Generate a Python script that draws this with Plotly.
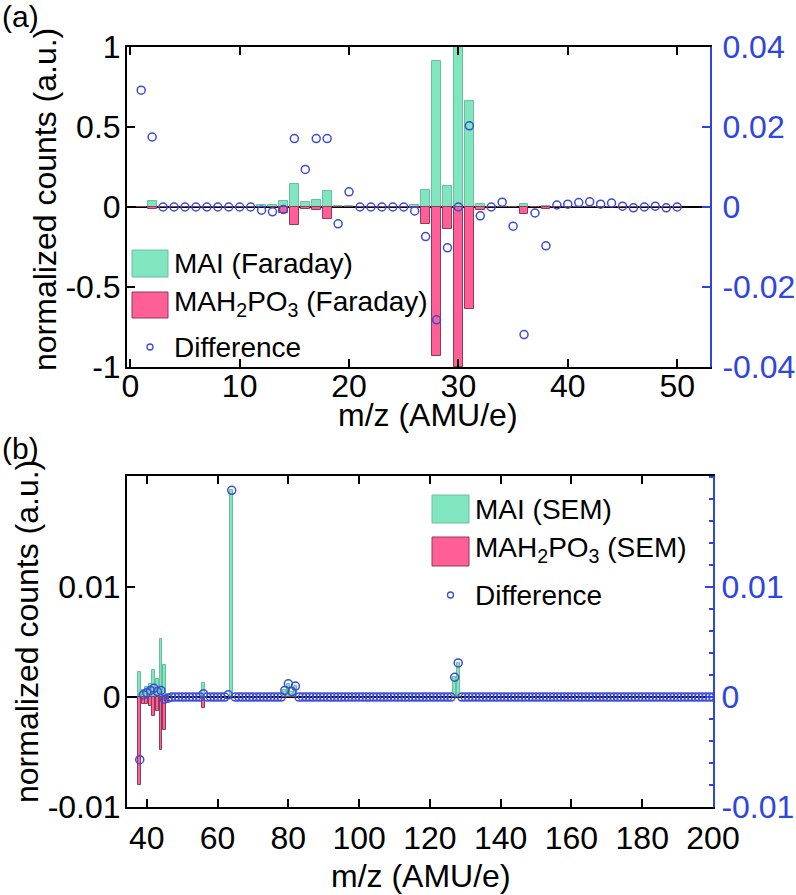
import plotly.graph_objects as go

# ---------------- data: panel (a) Faraday ----------------
mz_a = list(range(1, 51))
mai_a = [0.0, 0.038, 0, 0, 0, 0, 0, 0, 0, 0,
         0.002, 0.012, 0.012, 0.036, 0.142, 0.029, 0.046, 0.102, 0.004, 0.006,
         0.002, 0, 0, 0, 0.003, 0.015, 0.108, 0.91, 0.131, 1.0,
         0.66, 0.017, 0, 0.002, 0.002, 0.017, 0.002, 0.004, 0, 0,
         0, 0, 0.002, 0.002, 0, 0, 0, 0, 0, 0]
mah_a = [0.0, -0.0125, 0, 0, 0, 0, 0, 0, 0, 0,
         0, -0.002, -0.002, -0.035, -0.115, -0.015, -0.021, -0.077, -0.002, 0,
         0, 0, 0, 0, 0, -0.004, -0.108, -0.933, -0.135, -1.0,
         -0.635, -0.017, 0, 0, 0, -0.042, 0, -0.012, 0, 0,
         0, 0, 0, 0, 0, 0, 0, 0, 0, 0]
diff_a = [0.0292, 0.0175, 0, 0, 0, 0, 0, 0, 0, 0,
          0, -0.0008, -0.0012, -0.0006, 0.0171, 0.0094, 0.0171, 0.0171, -0.0042, 0.0038,
          0, 0, 0, 0, 0, -0.001, -0.0074, -0.0282, -0.0102, 0,
          0.0203, -0.0022, 0, 0.0012, -0.0048, -0.0319, -0.0015, -0.0097, 0.0005, 0.0007,
          0.0011, 0.0013, 0.0007, 0.001, 0.0002, -0.0002, 0, 0.0002, -0.0002, 0]

# ---------------- data: panel (b) SEM ----------------
mz_b_bars = [38, 39, 40, 41, 42, 43, 44, 45, 46, 56, 64, 79, 80, 81, 82, 127, 128]
mai_b = [0.0023, 0.0006, 0.0009, 0.0012, 0.0025, 0.0016, 0.0053, 0.0029, 0.0003,
         0.0013, 0.0188, 0.0006, 0.0012, 0.0005, 0.0010, 0.0018, 0.0031]
mah_b = [-0.0080, -0.0006, -0.0006, -0.0008, -0.0017, -0.0013, -0.0048, -0.0030, -0.0004,
         -0.0010, 0, 0, 0, 0, 0, 0, 0]
mz_b = list(range(38, 201))
diff_b = [-0.0057, 0.0002, 0.0004, 0.0006, 0.0008, 0.0005, 0.0006, -0.0002, -0.0001, 0,   # 38-47
          0, 0, 0, 0, 0, 0, 0, 0, 0.0003, 0,                                            # 48-57
          0, 0, 0, 0, 0, 0.0002, 0.0188, 0, 0, 0,                                       # 58-67
          0, 0, 0, 0, 0, 0, 0, 0, 0, 0,                                                 # 68-77
          0, 0.0006, 0.0012, 0.0005, 0.0010, 0, 0, 0, 0, 0,                             # 78-87
          0, 0, 0, 0, 0, 0, 0, 0, 0, 0,                                                 # 88-97
          0, 0, 0, 0, 0, 0, 0, 0, 0, 0,                                                 # 98-107
          0, 0, 0, 0, 0, 0, 0, 0, 0, 0,                                                 # 108-117
          0, 0, 0, 0, 0, 0, 0, 0, 0, 0.0018,                                            # 118-127
          0.0031, 0, 0, 0, 0, 0, 0, 0, 0, 0,                                            # 128-137
          0, 0, 0, 0, 0, 0, 0, 0, 0, 0,                                                 # 138-147
          0, 0, 0, 0, 0, 0, 0, 0, 0, 0,                                                 # 148-157
          0, 0, 0, 0, 0, 0, 0, 0, 0, 0,                                                 # 158-167
          0, 0, 0, 0, 0, 0, 0, 0, 0, 0,                                                 # 168-177
          0, 0, 0, 0, 0, 0, 0, 0, 0, 0,                                                 # 178-187
          0, 0, 0, 0, 0, 0, 0, 0, 0, 0,                                                 # 188-197
          0, 0, 0]                                                                      # 198-200

# ---------------- tick labels ----------------
xt_a = [0, 10, 20, 30, 40, 50]
yt_a = [-1, -0.5, 0, 0.5, 1]
yt_a_txt = ["-1", "-0.5", "0", "0.5", "1"]
yt_a2 = [-0.04, -0.02, 0, 0.02, 0.04]
yt_a2_txt = ["-0.04", "-0.02", "0", "0.02", "0.04"]
xt_b = [40, 60, 80, 100, 120, 140, 160, 180, 200]
yt_b = [-0.01, 0, 0.01]
yt_b_txt = ["-0.01", "0", "0.01"]

# ---------------- style ----------------
GREEN = "#80E6C0"
GREEN_EDGE = "#6CBF9C"
PINK = "#FF5E96"
PINK_EDGE = "#8E3A5A"
BLUE = "#3A4BD8"
AXBLUE = "#2F45E0"
FONT = "Liberation Sans, Arial, Helvetica, sans-serif"

W, H = 796, 895
ML, MR, MT, MB = 127, 83, 47, 88
PW = W - ML - MR
PH = H - MT - MB


def px(x):
    return (x - ML) / PW


def py(y):
    return (H - MB - y) / PH


fig = go.Figure()

# panel (a)
fig.add_trace(go.Bar(x=mz_a, y=mai_a, width=0.8, marker=dict(color=GREEN, line=dict(color=GREEN_EDGE, width=1)),
                     xaxis="x", yaxis="y", showlegend=False, name="MAI (Faraday)"))
fig.add_trace(go.Bar(x=mz_a, y=mah_a, width=0.8, marker=dict(color=PINK, line=dict(color=PINK_EDGE, width=1)),
                     xaxis="x", yaxis="y", showlegend=False, name="MAH2PO3 (Faraday)"))
fig.add_trace(go.Scatter(x=mz_a, y=diff_a, mode="markers",
                         marker=dict(symbol="circle-open", size=8, color=BLUE, line=dict(width=1.5, color=BLUE)),
                         xaxis="x", yaxis="y2", showlegend=False, name="Difference"))

# panel (b)
fig.add_trace(go.Bar(x=mz_b_bars, y=mai_b, width=0.8, marker=dict(color=GREEN, line=dict(color=GREEN_EDGE, width=1)),
                     xaxis="x2", yaxis="y3", showlegend=False, name="MAI (SEM)"))
fig.add_trace(go.Bar(x=mz_b_bars, y=mah_b, width=0.8, marker=dict(color=PINK, line=dict(color=PINK_EDGE, width=1)),
                     xaxis="x2", yaxis="y3", showlegend=False, name="MAH2PO3 (SEM)"))
fig.add_trace(go.Scatter(x=mz_b, y=diff_b, mode="markers",
                         marker=dict(symbol="circle-open", size=8, color=BLUE, line=dict(width=1.5, color=BLUE)),
                         xaxis="x2", yaxis="y4", showlegend=False, name="Difference"))

tickfont = dict(family=FONT, size=32, color="black")
tickfont_b = dict(family=FONT, size=32, color=AXBLUE)

dom_a = [py(367), 1.0]
dom_b = [0.0, py(476)]

common_x = dict(showline=True, linecolor="black", linewidth=2, mirror="ticks", ticks="inside", ticklen=8,
                tickwidth=2, tickcolor="black", showgrid=False, zeroline=False, tickfont=tickfont,
                automargin=False)

fig.update_layout(
    width=W, height=H, margin=dict(l=ML, r=MR, t=MT, b=MB, autoexpand=False),
    paper_bgcolor="white", plot_bgcolor="white",
    barmode="overlay", bargap=0,
    font=dict(family=FONT, color="black"),
    xaxis=dict(domain=[0, px(710)], range=[-0.3, 53], anchor="y", tickvals=xt_a,
               ticklabelstandoff=-10, **common_x),
    yaxis=dict(domain=dom_a, range=[-1, 1], anchor="x", tickvals=yt_a, ticktext=yt_a_txt,
               showline=True, linecolor="black", linewidth=2, mirror=False, ticks="inside", ticklen=8,
               tickwidth=2, tickcolor="black", showgrid=False, zeroline=True, zerolinecolor="black",
               zerolinewidth=1.5, tickfont=tickfont, ticklabelstandoff=-2, automargin=False),
    yaxis2=dict(overlaying="y", side="right", anchor="x", range=[-0.04, 0.04], tickvals=yt_a2, ticktext=yt_a2_txt,
                showline=True, linecolor=AXBLUE, linewidth=2, ticks="inside", ticklen=8, tickwidth=2,
                tickcolor=AXBLUE, showgrid=False, zeroline=False, tickfont=tickfont_b, ticklabelstandoff=4,
                automargin=False),
    xaxis2=dict(domain=[0, 1], range=[34.4, 200], anchor="y3", tickvals=xt_b,
                ticklabelstandoff=2, **common_x),
    yaxis3=dict(domain=dom_b, range=[-0.01, 0.0201], anchor="x2", tickvals=yt_b, ticktext=yt_b_txt,
                showline=True, linecolor="black", linewidth=2, mirror=False, ticks="inside", ticklen=8,
                tickwidth=2, tickcolor="black", showgrid=False, zeroline=True, zerolinecolor="black",
                zerolinewidth=1.5, tickfont=tickfont, ticklabelstandoff=-2, automargin=False),
    yaxis4=dict(overlaying="y3", side="right", anchor="x2", range=[-0.01, 0.0201], tickvals=yt_b,
                ticktext=yt_b_txt, showline=True, linecolor=AXBLUE, linewidth=2, ticks="inside", ticklen=8,
                tickwidth=2, tickcolor=AXBLUE, showgrid=False, zeroline=False, tickfont=tickfont_b,
                ticklabelstandoff=0, automargin=False,
                minor=dict(dtick=0.002, tick0=0, ticks="inside", ticklen=4, tickwidth=1.5, tickcolor=AXBLUE)),
)

shapes = []
annotations = []

# axis titles and panel labels
title_font = dict(family=FONT, size=32, color="black")
annotations.append(dict(text="normalized counts (a.u.)", x=px(45), y=py(200), xref="paper", yref="paper",
                        textangle=-90, showarrow=False, xanchor="center", yanchor="middle", font=title_font))
annotations.append(dict(text="normalized counts (a.u.)", x=px(27), y=py(632), xref="paper", yref="paper",
                        textangle=-90, showarrow=False, xanchor="center", yanchor="middle", font=title_font))
annotations.append(dict(text="m/z (AMU/e)", x=px(428), y=py(415), xref="paper", yref="paper",
                        showarrow=False, xanchor="center", yanchor="middle", font=title_font))
annotations.append(dict(text="m/z (AMU/e)", x=px(421), y=py(876), xref="paper", yref="paper",
                        showarrow=False, xanchor="center", yanchor="middle", font=title_font))
annotations.append(dict(text="(a)", x=px(0), y=py(16), xref="paper", yref="paper", showarrow=False,
                        xanchor="left", yanchor="middle", font=dict(family=FONT, size=30, color="black")))
annotations.append(dict(text="(b)", x=px(0), y=py(448), xref="paper", yref="paper", showarrow=False,
                        xanchor="left", yanchor="middle", font=dict(family=FONT, size=30, color="black")))

# custom legends (patch geometry like the original)
leg_font = dict(family=FONT, size=28, color="black")


def legend(x0, x1, rows, labels):
    (g0, g1), (p0, p1), cy = rows
    shapes.append(dict(type="rect", xref="paper", yref="paper", x0=px(x0), x1=px(x1), y0=py(g1), y1=py(g0),
                       fillcolor=GREEN, line=dict(color=GREEN_EDGE, width=1)))
    shapes.append(dict(type="rect", xref="paper", yref="paper", x0=px(x0), x1=px(x1), y0=py(p1), y1=py(p0),
                       fillcolor=PINK, line=dict(color=PINK_EDGE, width=1)))
    cx = (x0 + x1) / 2
    shapes.append(dict(type="circle", xref="paper", yref="paper", x0=px(cx - 3), x1=px(cx + 3),
                       y0=py(cy + 3), y1=py(cy - 3), line=dict(color=BLUE, width=1.3)))
    ys = [(g0 + g1) / 2, (p0 + p1) / 2 - 2, cy]
    for t, yy in zip(labels, ys):
        annotations.append(dict(text=t, x=px(x1 + 4), y=py(yy), xref="paper", yref="paper", showarrow=False,
                                xanchor="left", yanchor="middle", font=leg_font))


legend(132, 168, ((250, 277), (292, 318), 347),
       ["MAI (Faraday)", "MAH<sub>2</sub>PO<sub>3</sub> (Faraday)", "Difference"])
legend(432, 469, ((495, 523), (537, 566), 595),
       ["MAI (SEM)", "MAH<sub>2</sub>PO<sub>3</sub> (SEM)", "Difference"])

fig.update_layout(shapes=shapes, annotations=annotations)

fig.write_html("out.html", config={"displayModeBar": False},
               post_script="document.body.style.margin='0';document.body.style.overflow='hidden';")
